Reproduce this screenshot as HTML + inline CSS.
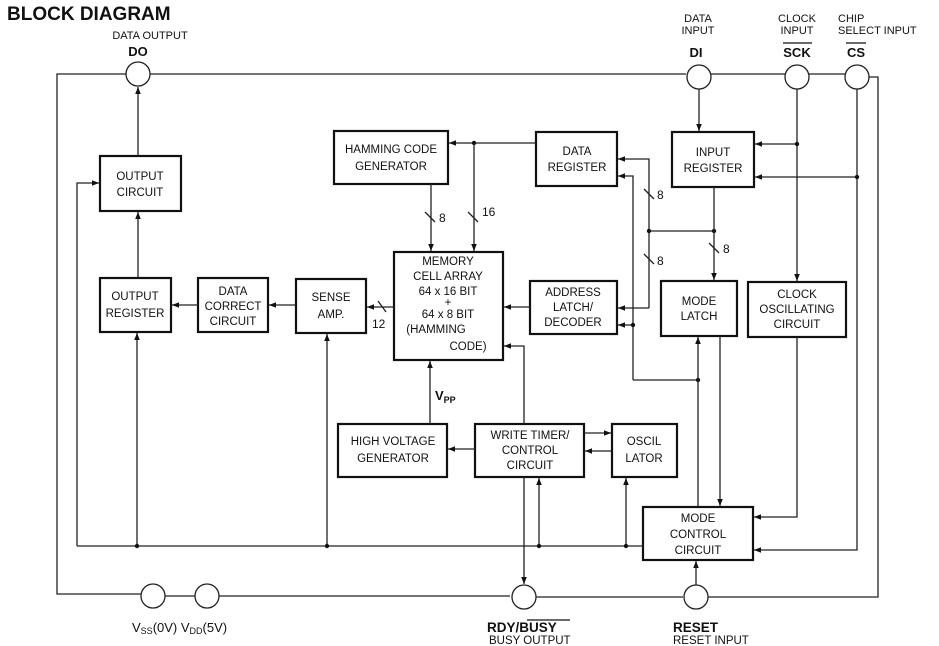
<!DOCTYPE html>
<html><head><meta charset="utf-8"><style>
html,body{margin:0;padding:0;background:#fff;}
svg{display:block;}
text{font-family:"Liberation Sans",sans-serif;fill:#111;}
.b{fill:none;stroke:#111;stroke-width:2.2;}
.l{fill:none;stroke:#222;stroke-width:1.3;}
.t{font-size:11.5px;text-anchor:middle;}
.c{fill:#fff;stroke:#222;stroke-width:1.3;}
</style></head><body>
<svg width="939" height="646" viewBox="0 0 939 646" xmlns="http://www.w3.org/2000/svg">
<defs>
<marker id="a" viewBox="0 0 10 10" refX="10" refY="5" markerWidth="7" markerHeight="7" orient="auto" markerUnits="userSpaceOnUse"><path d="M0,1 L10,5 L0,9 z" fill="#111"/></marker>
</defs>
<text x="7" y="20" style="font-size:19px;font-weight:bold">BLOCK DIAGRAM</text>

<path class="l" d="M126,74 H57 V594 H141"/>
<path class="l" d="M150,74 H686 M711,74 H785 M809,74 H845 M869,77 H878 V597 H707"/>
<path class="l" d="M165,596 H195 M219,596 H510 M536,597 H683"/>
<circle class="c" cx="138" cy="74" r="12"/>
<circle class="c" cx="699" cy="77" r="12"/>
<circle class="c" cx="797" cy="77" r="12"/>
<circle class="c" cx="857" cy="77" r="12"/>
<circle class="c" cx="153" cy="596" r="12"/>
<circle class="c" cx="207" cy="596" r="12"/>
<circle class="c" cx="524" cy="597" r="12"/>
<circle class="c" cx="696" cy="597" r="12"/>

<text class="t" x="150" y="39" style="font-size:11px">DATA OUTPUT</text>
<text class="t" x="138" y="56" style="font-size:13px;font-weight:bold">DO</text>
<text class="t" x="698" y="22" style="font-size:11px">DATA</text>
<text class="t" x="698" y="34" style="font-size:11px">INPUT</text>
<text class="t" x="696" y="57" style="font-size:13px;font-weight:bold">DI</text>
<text class="t" x="797" y="22" style="font-size:11px">CLOCK</text>
<text class="t" x="797" y="34" style="font-size:11px">INPUT</text>
<text class="t" x="797" y="57" style="font-size:13px;font-weight:bold">SCK</text>
<line x1="783" y1="43" x2="812" y2="43" stroke="#111" stroke-width="1.3"/>
<text x="838" y="22" style="font-size:11px">CHIP</text>
<text x="838" y="34" style="font-size:11px">SELECT INPUT</text>
<text class="t" x="856" y="57" style="font-size:13px;font-weight:bold">CS</text>
<line x1="846" y1="43" x2="866" y2="43" stroke="#111" stroke-width="1.3"/>
<text x="132" y="632" style="font-size:13px">V<tspan style="font-size:9px" dy="2">SS</tspan><tspan dy="-2">(0V) V</tspan><tspan style="font-size:9px" dy="2">DD</tspan><tspan dy="-2">(5V)</tspan></text>
<text x="487" y="632" style="font-size:13.5px;font-weight:bold">RDY/BUSY</text>
<line x1="527" y1="620" x2="570" y2="620" stroke="#111" stroke-width="1.3"/>
<text x="489" y="644" style="font-size:11.5px">BUSY OUTPUT</text>
<text x="673" y="632" style="font-size:13.5px;font-weight:bold">RESET</text>
<text x="673" y="644" style="font-size:11.5px">RESET INPUT</text>

<rect class="b" x="100" y="156" width="81" height="55"/>
<text class="t" x="140" y="180">OUTPUT</text><text class="t" x="140" y="196">CIRCUIT</text>
<rect class="b" x="100" y="278" width="71" height="54"/>
<text class="t" x="135" y="300">OUTPUT</text><text class="t" x="135" y="317">REGISTER</text>
<rect class="b" x="198" y="278" width="70" height="54"/>
<text class="t" x="233" y="295">DATA</text><text class="t" x="233" y="310">CORRECT</text><text class="t" x="233" y="325">CIRCUIT</text>
<rect class="b" x="296" y="279" width="70" height="54"/>
<text class="t" x="331" y="301">SENSE</text><text class="t" x="331" y="318">AMP.</text>
<rect class="b" x="334" y="131" width="114" height="53"/>
<text class="t" x="391" y="153">HAMMING CODE</text><text class="t" x="391" y="170">GENERATOR</text>
<rect class="b" x="394" y="252" width="109" height="108"/>
<text class="t" x="448" y="265">MEMORY</text><text class="t" x="448" y="280">CELL ARRAY</text>
<text class="t" x="448" y="295">64 x 16 BIT</text><text class="t" x="448" y="306">+</text>
<text class="t" x="448" y="318">64 x 8 BIT</text><text class="t" x="436" y="333">(HAMMING</text><text class="t" x="468" y="350">CODE)</text>
<rect class="b" x="536" y="132" width="81" height="54"/>
<text class="t" x="577" y="155">DATA</text><text class="t" x="577" y="171">REGISTER</text>
<rect class="b" x="530" y="281" width="87" height="53"/>
<text class="t" x="573" y="296">ADDRESS</text><text class="t" x="573" y="311">LATCH/</text><text class="t" x="573" y="326">DECODER</text>
<rect class="b" x="672" y="132" width="82" height="55"/>
<text class="t" x="713" y="156">INPUT</text><text class="t" x="713" y="172">REGISTER</text>
<rect class="b" x="661" y="281" width="76" height="55"/>
<text class="t" x="699" y="305">MODE</text><text class="t" x="699" y="320">LATCH</text>
<rect class="b" x="748" y="282" width="98" height="55"/>
<text class="t" x="797" y="298">CLOCK</text><text class="t" x="797" y="313">OSCILLATING</text><text class="t" x="797" y="328">CIRCUIT</text>
<rect class="b" x="338" y="424" width="109" height="53"/>
<text class="t" x="393" y="445">HIGH VOLTAGE</text><text class="t" x="393" y="462">GENERATOR</text>
<rect class="b" x="475" y="424" width="109" height="53"/>
<text class="t" x="530" y="439">WRITE TIMER/</text><text class="t" x="530" y="454">CONTROL</text><text class="t" x="530" y="469">CIRCUIT</text>
<rect class="b" x="612" y="424" width="65" height="53"/>
<text class="t" x="644" y="445">OSCIL</text><text class="t" x="644" y="462">LATOR</text>
<rect class="b" x="643" y="507" width="110" height="53"/>
<text class="t" x="698" y="522">MODE</text><text class="t" x="698" y="538">CONTROL</text><text class="t" x="698" y="554">CIRCUIT</text>

<path class="l" d="M138,156 V87" marker-end="url(#a)"/>
<path class="l" d="M138,278 V212" marker-end="url(#a)"/>
<path class="l" d="M198,305 H172" marker-end="url(#a)"/>
<path class="l" d="M296,305 H269" marker-end="url(#a)"/>
<path class="l" d="M394,307 H367" marker-end="url(#a)"/>
<text x="372" y="328" style="font-size:12px">12</text>
<line class="l" x1="378" y1="301" x2="386" y2="312"/>
<path class="l" d="M77,546 V183 H99" marker-end="url(#a)"/>
<path class="l" d="M77,546 H643"/>
<path class="l" d="M137,546 V333" marker-end="url(#a)"/>
<path class="l" d="M327,546 V334" marker-end="url(#a)"/>
<circle cx="137" cy="546" r="2.2" fill="#111"/>
<circle cx="327" cy="546" r="2.2" fill="#111"/>
<path class="l" d="M536,143 H449" marker-end="url(#a)"/>
<circle cx="474" cy="143" r="2.2" fill="#111"/>
<path class="l" d="M431,184 V251" marker-end="url(#a)"/>
<path class="l" d="M474,143 V251" marker-end="url(#a)"/>
<line class="l" x1="425" y1="212" x2="435" y2="222"/>
<text x="439" y="222" style="font-size:12px">8</text>
<line class="l" x1="468" y1="212" x2="478" y2="222"/>
<text x="482" y="216" style="font-size:12px">16</text>
<path class="l" d="M530,307 H504" marker-end="url(#a)"/>
<path class="l" d="M430,424 V361" marker-end="url(#a)"/>
<text x="435" y="400" style="font-size:13px;font-weight:bold">V<tspan style="font-size:9px" dy="3">PP</tspan></text>
<path class="l" d="M524,424 V346 H504" marker-end="url(#a)"/>
<path class="l" d="M475,449 H448" marker-end="url(#a)"/>
<path class="l" d="M584,433 H611" marker-end="url(#a)"/>
<path class="l" d="M612,451 H585" marker-end="url(#a)"/>
<path class="l" d="M524,477 V584" marker-end="url(#a)"/>
<path class="l" d="M539,546 V478" marker-end="url(#a)"/>
<path class="l" d="M626,546 V478" marker-end="url(#a)"/>
<circle cx="539" cy="546" r="2.2" fill="#111"/>
<circle cx="626" cy="546" r="2.2" fill="#111"/>
<path class="l" d="M649,308 V159 H618" marker-end="url(#a)"/>
<path class="l" d="M649,308 H618" marker-end="url(#a)"/>
<path class="l" d="M649,231 H714"/>
<circle cx="649" cy="231" r="2.2" fill="#111"/>
<circle cx="714" cy="231" r="2.2" fill="#111"/>
<line class="l" x1="644" y1="189" x2="654" y2="199"/>
<text x="657" y="199" style="font-size:12px">8</text>
<line class="l" x1="644" y1="254" x2="654" y2="264"/>
<text x="657" y="265" style="font-size:12px">8</text>
<path class="l" d="M633,380 V176 H618" marker-end="url(#a)"/>
<path class="l" d="M633,325 H618" marker-end="url(#a)"/>
<circle cx="633" cy="325" r="2.2" fill="#111"/>
<path class="l" d="M633,380 H698"/>
<circle cx="698" cy="380" r="2.2" fill="#111"/>
<path class="l" d="M699,89 V131" marker-end="url(#a)"/>
<path class="l" d="M714,187 V280" marker-end="url(#a)"/>
<line class="l" x1="709" y1="243" x2="719" y2="253"/>
<text x="723" y="253" style="font-size:12px">8</text>
<path class="l" d="M797,89 V281" marker-end="url(#a)"/>
<path class="l" d="M797,144 H755" marker-end="url(#a)"/>
<circle cx="797" cy="144" r="2.2" fill="#111"/>
<path class="l" d="M857,89 V550 H754" marker-end="url(#a)"/>
<path class="l" d="M857,177 H755" marker-end="url(#a)"/>
<circle cx="857" cy="177" r="2.2" fill="#111"/>
<path class="l" d="M797,337 V517 H754" marker-end="url(#a)"/>
<path class="l" d="M698,507 V337" marker-end="url(#a)"/>
<path class="l" d="M720,336 V506" marker-end="url(#a)"/>
<path class="l" d="M696,585 V561" marker-end="url(#a)"/>
</svg>
</body></html>
